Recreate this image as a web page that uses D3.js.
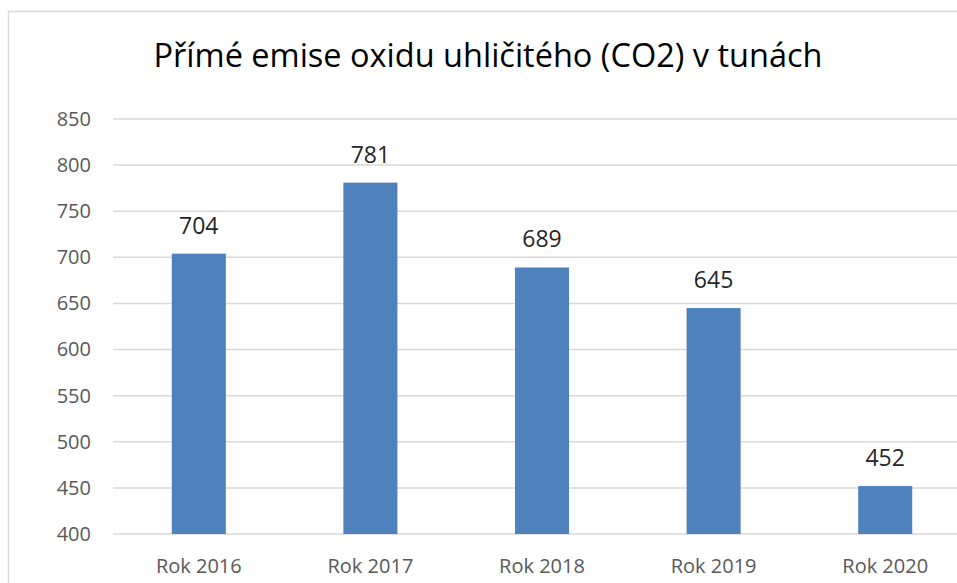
<!DOCTYPE html>
<html>
<head>
<meta charset="utf-8">
<script src="https://cdn.jsdelivr.net/npm/d3@7"></script>
<style>
  body { margin: 0; background: #fff; }
  svg { display: block; font-family: "Open Sans", Lato, sans-serif; }
</style>
</head>
<body>
<div id="chart"></div>
<script>
// chart data
const categories = ['Rok 2016', 'Rok 2017', 'Rok 2018', 'Rok 2019', 'Rok 2020'];
const values = [704, 781, 689, 645, 452];
const yTicks = [400, 450, 500, 550, 600, 650, 700, 750, 800, 850];
const title = 'Přímé emise oxidu uhličitého (CO2) v tunách';

const W = 957, H = 583;
const plot = { left: 113, right: 971, top: 119, bottom: 534 };

const svg = d3.select('#chart')
  .append('svg')
  .attr('width', W)
  .attr('height', H);

// chart frame (right/bottom run off the picture)
svg.append('rect')
  .attr('x', 8.5).attr('y', 11.5)
  .attr('width', 1000).attr('height', 700)
  .attr('fill', 'none')
  .attr('stroke', '#d9d9d9')
  .attr('stroke-width', 1.5);

const x = d3.scaleBand()
  .domain(categories)
  .range([plot.left, plot.right])
  .paddingInner(0.685)
  .paddingOuter(0.3425);

const y = d3.scaleLinear()
  .domain([400, 850])
  .range([plot.bottom, plot.top]);

// gridlines
svg.append('g')
  .selectAll('line')
  .data(yTicks)
  .join('line')
  .attr('x1', plot.left)
  .attr('x2', plot.right)
  .attr('y1', d => y(d))
  .attr('y2', d => y(d))
  .attr('stroke', '#d9d9d9')
  .attr('stroke-width', 1.5);

// y axis labels
const yAxis = svg.append('g')
  .attr('transform', `translate(${plot.left}, 0)`)
  .call(d3.axisLeft(y).tickValues(yTicks).tickSize(0).tickPadding(22))
  .attr('font-family', null)
  .attr('font-size', null);
yAxis.select('.domain').remove();
yAxis.selectAll('text')
  .attr('fill', '#595959')
  .style('font-size', '20px');

// bars
svg.selectAll('.bar')
  .data(values)
  .join('rect')
  .attr('class', 'bar')
  .attr('x', (d, i) => x(categories[i]))
  .attr('y', d => y(d))
  .attr('width', x.bandwidth())
  .attr('height', d => y(400) - y(d))
  .attr('fill', '#4f81bd');

// value labels
svg.selectAll('.val')
  .data(values)
  .join('text')
  .attr('class', 'val')
  .attr('x', (d, i) => x(categories[i]) + x.bandwidth() / 2)
  .attr('y', d => y(d) - 20)
  .attr('text-anchor', 'middle')
  .attr('fill', '#262626')
  .style('font-size', '23px')
  .text(d => d);

// x axis labels
const xAxis = svg.append('g')
  .attr('transform', `translate(0, ${plot.bottom})`)
  .call(d3.axisBottom(x).tickSize(0).tickPadding(25))
  .attr('font-family', null)
  .attr('font-size', null);
xAxis.select('.domain').remove();
xAxis.selectAll('text')
  .attr('fill', '#595959')
  .style('font-size', '20px');

// title
svg.append('text')
  .attr('x', 488)
  .attr('y', 67)
  .attr('text-anchor', 'middle')
  .attr('fill', '#000')
  .style('font-size', '32.5px')
  .text(title);
</script>
</body>
</html>
